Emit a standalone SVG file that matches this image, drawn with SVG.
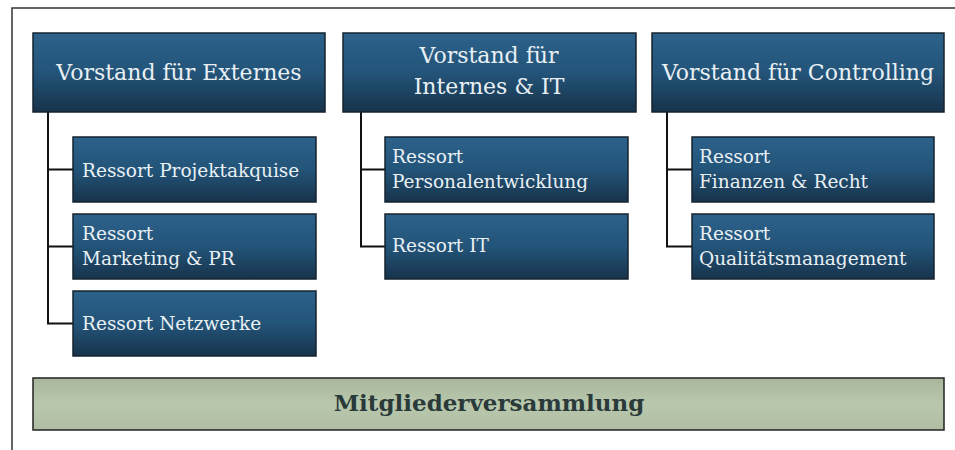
<svg xmlns="http://www.w3.org/2000/svg" width="955" height="450" viewBox="0 0 955 450">
<defs>
<linearGradient id="blue" x1="0" y1="0" x2="0" y2="1">
<stop offset="0" stop-color="#2d628b"/>
<stop offset="0.5" stop-color="#235479"/>
<stop offset="1" stop-color="#17334b"/>
</linearGradient>
<linearGradient id="green" x1="0" y1="0" x2="0" y2="1">
<stop offset="0" stop-color="#a8b79b"/>
<stop offset="0.5" stop-color="#b9c8ad"/>
<stop offset="1" stop-color="#b0bda3"/>
</linearGradient>
<style>
.box{fill:url(#blue);stroke:#16232f;stroke-width:1.5}
.t{font-family:"DejaVu Serif","Liberation Serif",serif;fill:#e9f0f4}
.h{font-size:22px;text-anchor:middle}
.c{font-size:18.5px}
.conn{fill:none;stroke:#111;stroke-width:2}
</style>
</defs>
<rect width="955" height="450" fill="#fff"/>
<path d="M12,450 V8 H955" fill="none" stroke="#333" stroke-width="1.5"/>
<g id="connectors">
<path class="conn" d="M48,112 V323.5 H73 M48,169.5 H73 M48,246.5 H73"/>
<path class="conn" d="M361,112 V246.5 H385 M361,169.5 H385"/>
<path class="conn" d="M667,112 V246.5 H692 M667,169.5 H692"/>
</g>
<g id="v1"><rect class="box" x="33" y="33" width="292" height="79"/><text class="t h" x="179" y="80">Vorstand für Externes</text></g>
<g id="v2"><rect class="box" x="343" y="33" width="293" height="79"/><text class="t h" x="489" y="63">Vorstand für</text><text class="t h" x="489" y="94">Internes &amp; IT</text></g>
<g id="v3"><rect class="box" x="652" y="33" width="292" height="79"/><text class="t h" x="798" y="80">Vorstand für Controlling</text></g>
<g id="r11"><rect class="box" x="73" y="137" width="243" height="65"/><text class="t c" x="82" y="177">Ressort Projektakquise</text></g>
<g id="r12"><rect class="box" x="73" y="214" width="243" height="65"/><text class="t c" x="82" y="240">Ressort</text><text class="t c" x="82" y="265">Marketing &amp; PR</text></g>
<g id="r13"><rect class="box" x="73" y="291" width="243" height="65"/><text class="t c" x="82" y="330">Ressort Netzwerke</text></g>
<g id="r21"><rect class="box" x="385" y="137" width="243" height="65"/><text class="t c" x="392" y="163">Ressort</text><text class="t c" x="392" y="188">Personalentwicklung</text></g>
<g id="r22"><rect class="box" x="385" y="214" width="243" height="65"/><text class="t c" x="392" y="252">Ressort IT</text></g>
<g id="r31"><rect class="box" x="692" y="137" width="242" height="65"/><text class="t c" x="699" y="163">Ressort</text><text class="t c" x="699" y="188">Finanzen &amp; Recht</text></g>
<g id="r32"><rect class="box" x="692" y="214" width="242" height="65"/><text class="t c" x="699" y="240">Ressort</text><text class="t c" x="699" y="265">Qualitätsmanagement</text></g>
<g id="mv"><rect x="33" y="378" width="911" height="52" fill="url(#green)" stroke="#222" stroke-width="1.5"/><text x="489" y="411" text-anchor="middle" font-family="DejaVu Serif, Liberation Serif, serif" font-size="23" font-weight="bold" fill="#2a3a3a">Mitgliederversammlung</text></g>
</svg>
